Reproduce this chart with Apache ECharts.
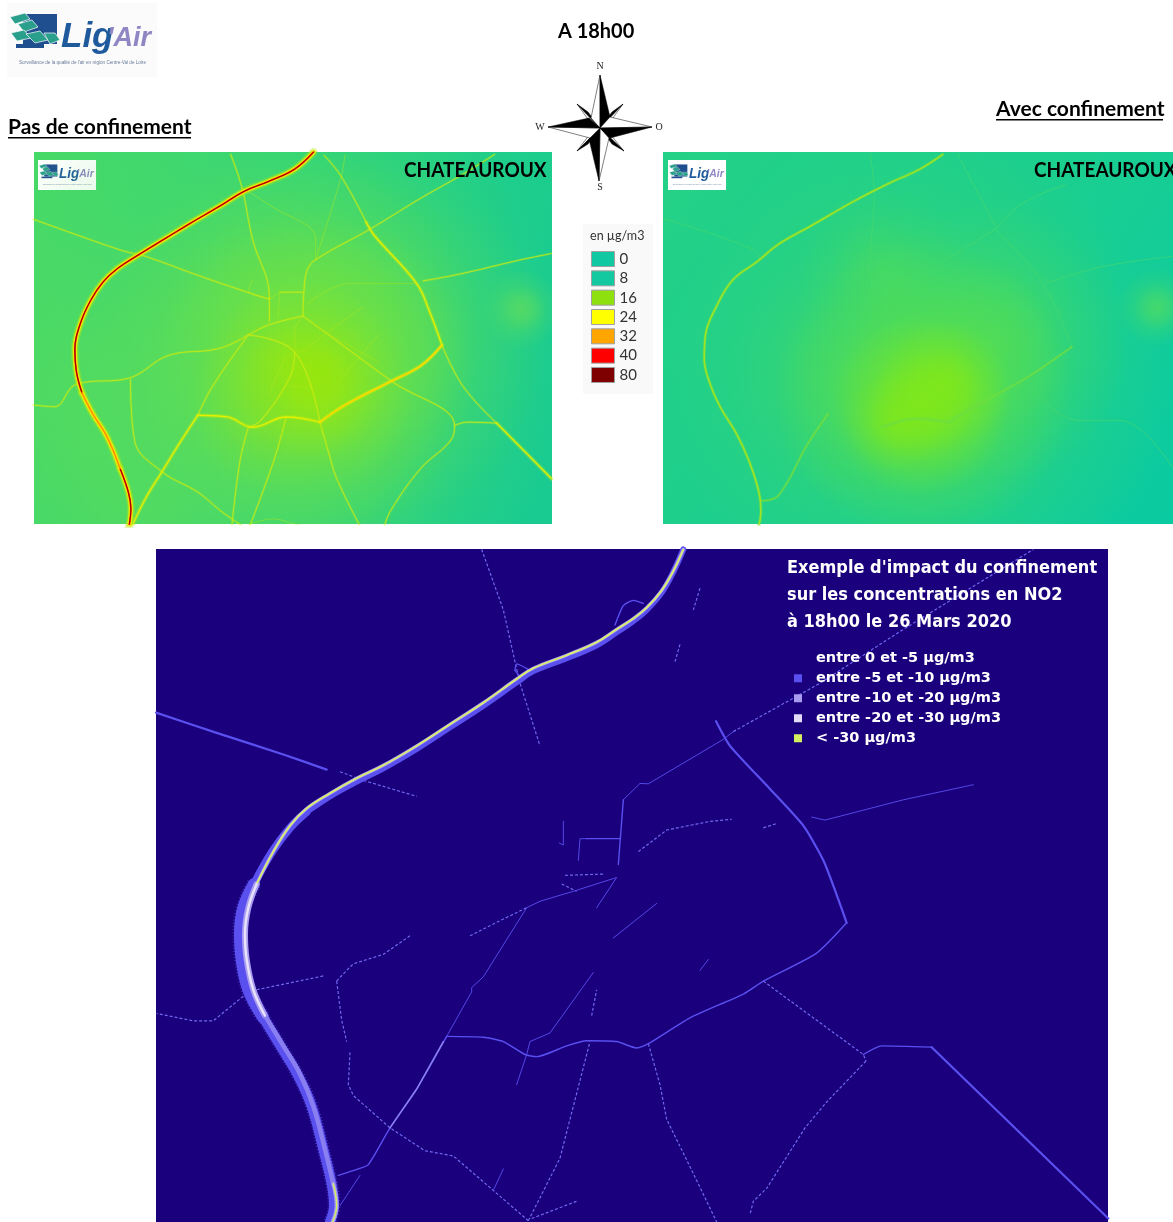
<!DOCTYPE html>
<html><head><meta charset="utf-8">
<style>html,body{margin:0;padding:0;background:#fff}#c{width:1173px;height:1222px}</style>
<script src="https://cdn.jsdelivr.net/npm/echarts@6/dist/echarts.min.js"></script>
</head><body><div id="c"></div>
<script>
// ---------- classes ----------
const concClasses = ['0','8','16','24','32','40','80'];
const concColors = ['#10c9a2','#12c9a0','#8fe00f','#ffff00','#ffa500','#ff0000','#7f0000'];
const diffClasses = ['entre 0 et -5 µg/m3','entre -5 et -10 µg/m3','entre -10 et -20 µg/m3','entre -20 et -30 µg/m3','< -30 µg/m3'];
const diffColors = ['#1a007c','#5a50f0','#a89cf0','#e2dcf8','#d4f060'];

// ---------- panel A : no lockdown (map units) ----------
const aMotorNorth = [[745,445],[700,495],[640,530],[580,560],[520,605],[450,655],[390,700],[330,745],[280,785],[245,825],[215,880],[190,950],[178,1020],[182,1090],[195,1150]];
const aMotorMid = [[195,1150],[220,1210],[255,1280],[285,1370]];
const aMotorSouth = [[285,1370],[305,1440],[311,1490],[305,1550]];
const aMajor = [
 [[870,650],[890,690],[990,830],[1020,910],[1050,1010]],
 [[760,1235],[680,1220],[600,1250],[540,1220],[470,1215]],
 [[470,1215],[430,1290],[385,1380],[345,1460],[310,1550]],
 [[1180,1238],[1310,1400]]
];
const aHot = [[[1050,1010],[1000,1070],[930,1115],[820,1185],[760,1235]]];
const aMedium = [
 [[770,455],[810,515],[870,650]],
 [[80,642],[200,695],[295,735],[345,750],[480,810],[600,860],[640,875]],
 [[548,452],[575,550],[600,700],[640,870],[640,940]],
 [[1175,452],[1100,510],[1000,580],[880,670],[750,760],[730,790],[722,855],[720,925]],
 [[1310,742],[1220,765],[1100,800],[1005,822]],
 [[760,1235],[780,1320],[800,1400],[860,1550]],
 [[1050,1010],[1100,1130],[1180,1238]],
 [[1080,1245],[1110,1235],[1180,1238]],
 [[720,925],[770,970],[930,1115],[1080,1245],[1075,1280],[1000,1370],[930,1490],[910,1550]],
 [[590,980],[640,950],[720,925]],
 [[470,1215],[505,1130],[590,980]],
 [[590,980],[700,1030],[760,1235]],
 [[700,1030],[690,1100],[620,1230],[590,1250]],
 [[680,1220],[650,1350],[590,1550]],
 [[590,1250],[570,1350],[550,1550]],
 [[310,1110],[320,1290],[385,1380],[470,1440],[530,1500],[590,1550]],
 [[80,1185],[130,1190],[180,1125],[310,1105],[400,1040],[520,1020],[590,980]],
 [[665,855],[720,855]]
];
const aFaint = [
 [[820,452],[810,520],[750,760]],
 [[575,550],[640,600],[750,700],[750,760]],
 [[640,875],[665,855],[660,930]],
 [[600,820],[590,850],[640,875]],
 [[730,890],[830,830],[990,830]],
 [[720,925],[700,970],[710,1030],[775,975],[860,900]],
 [[590,1535],[650,1518],[700,1533],[800,1550]],
 [[770,970],[900,1060]],[[800,1120],[900,980]],
 [[690,1130],[730,1130]],[[680,1040],[640,1150]]
];
const aBlobs = [ // x, y, diameter, colour, alpha
 [620,1080,620,'90,220,92',.8],[850,1000,380,'96,222,84',.85],[700,980,380,'108,224,72',.85],
 [720,1110,340,'128,228,44',.8],[720,1150,220,'150,230,16',.8],[740,1130,150,'164,232,0',.7],[640,1190,170,'150,230,16',.55],
 [1240,905,80,'102,222,88',.7],[280,1150,360,'88,220,92',.6],[350,1480,380,'90,220,90',.6],[700,1500,320,'80,218,100',.5]
];

// ---------- panel B : lockdown (map units) ----------
const bMotor = [[1015,452],[960,495],[880,540],[800,590],[700,660],[620,715],[570,765],[510,820],[470,900],[445,980],[442,1050],[455,1120],[480,1190],[520,1270],[550,1350],[575,1450],[578,1500],[570,1550]];
const bMedium = [
 [[1325,1015],[1260,1070],[1210,1110],[1090,1190],[1030,1235]],
 [[740,1210],[690,1300],[620,1450],[580,1465]],
 [[1030,1235],[950,1225],[870,1250]]
];
const bFaint = [
 [[345,640],[560,730],[575,760]],
 [[1310,540],[1200,600],[1140,670],[1020,760]],
 [[1140,670],[1250,820],[1325,1015]],
 [[1260,830],[1400,780],[1568,750]],
 [[1210,1110],[1340,1230],[1440,1230],[1568,1370]],
 [[840,450],[850,560],[830,840]],
 [[1050,450],[1140,660]]
];
const bBlobs = [
 [960,1120,500,'70,216,100',.8],[1130,1000,280,'80,220,90',.8],[870,790,170,'80,220,90',.55],[800,1100,260,'78,218,96',.5],
 [970,1150,300,'100,226,60',.8],[960,1190,180,'130,232,24',.85],[1020,1130,130,'130,232,24',.8],
 [900,1235,100,'130,232,24',.6],[1530,900,80,'90,222,90',.7]
];

// ---------- panel C : difference (map units) ----------
const cCoreYellow = [[1600,10],[1570,60],[1535,105],[1490,145],[1450,170],[1400,195],[1340,225],[1250,255],[1150,285],[1100,310],[1000,365],[900,415],[800,465],[700,510],[620,540],[540,575],[470,610],[420,650],[370,710],[320,785]];
const cCoreLight = [[320,785],[295,840],[285,900],[290,960],[310,1030],[345,1090]];
const cCoreSouth = [[345,1090],[400,1160],[450,1225],[490,1300],[525,1400],[550,1480]];
const cCoreEnd = [[550,1480],[560,1530],[548,1568]];
const cBandNorth = [[1600,10],[1570,62],[1535,110],[1490,150],[1450,176],[1400,202],[1340,232],[1250,262],[1150,292],[1100,318],[1000,372],[900,422],[800,472],[700,517],[620,548],[540,582],[470,618]];
const cBandBend = [[470,618],[420,655],[365,712],[312,785]];
const cBandWest = [[312,785],[280,840],[270,900],[275,960],[295,1030],[340,1095]];
const cBandSouth = [[340,1095],[395,1165],[445,1230],[485,1300],[520,1400],[545,1480],[552,1530],[540,1568]];
const cStrong = [
 [[1698,408],[1740,465],[1860,565],[1960,650],[2020,730],[2060,810],[2090,875]],
 [[2345,1163],[2875,1560]],
 [[18,388],[200,435],[400,485],[530,520]]
];
const cBright = [[[880,1150],[800,1260],[720,1350]]];
const cMedium = [
 [[2090,875],[2000,945],[1840,1010],[1780,1040],[1620,1095],[1495,1155],[1460,1165],[1400,1150],[1310,1148],[1250,1160],[1160,1185],[1125,1180],[1060,1150],[1000,1140],[890,1138]],
 [[890,1138],[800,1260],[720,1350],[655,1435],[625,1445],[565,1460]],
 [[1310,680],[1410,680]],
 [[1420,590],[1405,740]],
 [[2140,1180],[2195,1160],[2345,1163]],
 [[1095,290],[1100,275],[1140,290]],[[1095,290],[1110,305]],
 [[1395,185],[1420,140],[1450,128],[1480,135]]
];
const cThin = [
 [[1420,590],[1470,552],[1495,553],[1720,450],[1750,432]],
 [[890,1138],[965,1035],[965,1025],[1000,1000],[1130,840],[1170,825],[1270,802],[1400,770],[1340,840]],
 [[1985,630],[2025,637],[2260,590],[2470,555]],
 [[1100,1250],[1130,1180],[1140,1150],[1200,1130],[1330,990]],
 [[1240,640],[1240,695],[1228,690]],
 [[1285,730],[1290,680],[1310,680]],
 [[1390,910],[1520,830]],
 [[570,1530],[630,1460]],
 [[1030,1495],[1060,1445]],
 [[1650,985],[1675,960]]
];
const cDotted = [
 [[1750,432],[2010,320],[2250,200],[2650,10]],
 [[570,525],[640,545],[800,582]],
 [[995,10],[1060,150],[1095,270],[1110,320],[1170,465]],
 [[960,905],[1050,870],[1130,840]],
 [[320,1030],[520,998]],
 [[560,1010],[590,985],[610,970],[700,948],[780,905]],
 [[280,1045],[190,1102],[130,1102],[20,1085]],
 [[560,1010],[575,1100],[590,1150]],
 [[600,1175],[595,1250],[610,1275],[720,1350],[825,1403],[910,1415],[1030,1495],[1135,1565]],
 [[1135,1565],[1230,1420],[1320,1150]],
 [[1145,1560],[1280,1520]],
 [[1325,1090],[1340,1030]],
 [[1245,765],[1360,762]],[[1235,785],[1280,802]],
 [[1465,710],[1550,660],[1680,640],[1745,635]],
 [[1840,655],[1880,645]],
 [[1840,1010],[2140,1180],[2148,1195]],
 [[1495,1155],[1530,1250],[1550,1330],[1620,1440],[1700,1568]],
 [[2148,1195],[2030,1290],[1965,1350],[1850,1490],[1810,1520],[1800,1550]],
 [[1650,100],[1630,150]],[[1590,230],[1575,270]]
];

// ---------- helpers ----------
const chart = echarts.init(document.getElementById('c'), null, {renderer:'canvas'});
const panels = [
 {left:34, top:152, width:518, height:372, x:[80.8,1311.5], y:[445,1533], stops:['#46d968','#2bd37e','#19cb91'], dir:[0,.3,1,.6]},
 {left:663,top:152, width:510, height:372, x:[343,1568], y:[445,1533], stops:['#24d186','#1ccf8e','#0acaa2'], dir:[0,0,1,1]},
 {left:156,top:549, width:952, height:673, x:[18,2874], y:[9,1568], bg:'#1a007c'}
];
const grids=[],xAxes=[],yAxes=[],series=[];
panels.forEach((p,i)=>{
  grids.push({show:true,left:p.left,top:p.top,width:p.width,height:p.height,borderWidth:0,
    backgroundColor:p.bg||new echarts.graphic.LinearGradient(p.dir[0],p.dir[1],p.dir[2],p.dir[3],[
      {offset:0,color:p.stops[0]},{offset:.5,color:p.stops[1]},{offset:1,color:p.stops[2]}])});
  xAxes.push({type:'value',gridIndex:i,min:p.x[0],max:p.x[1],show:false});
  yAxes.push({type:'value',gridIndex:i,min:p.y[0],max:p.y[1],inverse:true,show:false});
});
function road(panel,pts,width,color,opacity,smooth,dash){
  series.push({type:'line',xAxisIndex:panel,yAxisIndex:panel,data:pts,showSymbol:false,silent:true,clip:true,
    smooth:smooth===undefined?0.4:smooth,animation:false,
    lineStyle:{width,color,opacity:opacity===undefined?1:opacity,cap:dash?'butt':'round',join:'round',type:dash||'solid'}});
}
function blobs(panel,list){
  series.push({type:'custom',xAxisIndex:panel,yAxisIndex:panel,silent:true,animation:false,clip:true,
    data:list.map(b=>[b[0],b[1],b[2]]),
    renderItem(params,api){
      const b=list[params.dataIndex], c=api.coord([api.value(0),api.value(1)]), r=api.value(2)/2, s=params.coordSys;
      const rect=echarts.graphic.clipRectByRect({x:c[0]-r,y:c[1]-r,width:2*r,height:2*r},{x:s.x,y:s.y,width:s.width,height:s.height});
      if(!rect) return;
      return {type:'rect',shape:rect,style:{fill:new echarts.graphic.RadialGradient(c[0],c[1],r,[
        {offset:0,color:`rgba(${b[3]},${b[4]})`},{offset:.3,color:`rgba(${b[3]},${b[4]*.72})`},{offset:.6,color:`rgba(${b[3]},${b[4]*.3})`},{offset:1,color:`rgba(${b[3]},0)`}],true)}};
    }});
}

// panel A
blobs(0,aBlobs);
aFaint.forEach(r=>road(0,r,.9,'#aee81c',.55));
aMedium.forEach(r=>{road(0,r,2.6,'#c0ea18',.25);road(0,r,.95,'#ccec10',.85);});
aMajor.forEach(r=>{road(0,r,4,'#c0ea10',.4);road(0,r,1.3,'#e4f000',1);});
aHot.forEach(r=>{road(0,r,4,'#d0ec08',.5);road(0,r,1.8,'#f4ea00',1);road(0,r,.6,'#ffa500',.7);});
[aMotorNorth,aMotorMid,aMotorSouth].forEach(r=>{road(0,r,8,'#b0e810',.35);road(0,r,5,'#d8ee08',.8);road(0,r,3,'#fff000',1);});
[aMotorNorth,aMotorSouth].forEach(r=>{road(0,r,2,'#ffa000',1);road(0,r,1.4,'#e81000',1);road(0,r,.8,'#8a0000',1);});
road(0,aMotorMid,1.8,'#ffb000',1);road(0,aMotorMid,.7,'#f05000',.6);

// panel B
blobs(1,bBlobs);
bFaint.forEach(r=>road(1,r,1,'#4cd86a',.6));
bMedium.forEach(r=>{road(1,r,3,'#64dc50',.45);road(1,r,1.1,'#74e038',.85);});
road(1,bMotor,3.5,'#70e040',.4);road(1,bMotor,1.6,'#9ee424',1);

// panel C
cDotted.forEach(r=>road(2,r,1.2,'#7068f0',1,false,[3,2]));
cThin.forEach(r=>road(2,r,.9,'#5a50f0',1,false));
cMedium.forEach(r=>road(2,r,1.4,'#5a50f0',1,0.2));
cBright.forEach(r=>road(2,r,1.5,'#8a80f0',1,false));
cStrong.forEach(r=>road(2,r,2.2,'#5a50f0',1,0.2));
road(2,cBandWest,15,'#5a50f0',.55,.4,[1,2]);road(2,cBandSouth,13,'#5a50f0',.55,.4,[1,2]);
road(2,cBandNorth,6,'#5a50f0');road(2,cBandBend,8,'#5a50f0');road(2,cBandWest,12,'#5a50f0');road(2,cBandSouth,10,'#5a50f0');
road(2,cCoreLight,6,'#a89cf0');road(2,cCoreSouth,4.5,'#8a7ff0');road(2,cCoreEnd,4,'#a89cf0');
road(2,cCoreYellow,3.2,'#a89cf0');road(2,cCoreYellow,1.7,'#dcf068');
road(2,cCoreLight,2.4,'#e8e2fa');road(2,cCoreEnd,1.4,'#d4f060');

// legend-only series
concClasses.forEach((n,i)=>series.push({type:'scatter',name:n,data:[],xAxisIndex:0,yAxisIndex:0,itemStyle:{color:concColors[i],opacity:1}}));
diffClasses.forEach((n,i)=>series.push({type:'scatter',name:n,data:[],xAxisIndex:2,yAxisIndex:2,itemStyle:{color:diffColors[i],opacity:1}}));

// decoration
function logo(ox,oy,sx,sy,detail){
  const tile=(pts,fill)=>({type:'polygon',shape:{points:pts},style:{fill,stroke:'#fff',lineWidth:.7}});
  const kids=[
   {type:'rect',shape:{x:0,y:0,width:150,height:74},style:{fill:detail?'#fbfbfb':'#ffffff'}},
   {type:'rect',shape:{x:16,y:11,width:34,height:30},style:{fill:'#1f4f8f'}},
   {type:'rect',shape:{x:9,y:41,width:28,height:4},style:{fill:'#1f4f8f'}},
   tile([[3,14],[18,10],[23,16],[8,21]],'#2a9f8c'),
   tile([[11,21],[25,17],[31,24],[17,29]],'#2a9f8c'),
   tile([[4,30],[17,27],[24,35],[10,38]],'#2a9f8c'),
   tile([[19,31],[33,28],[41,37],[28,40]],'#2a9f8c'),
   tile([[37,30],[48,30],[53,37],[43,41]],'#2a9f8c'),
   {type:'text',x:54,y:17,style:{text:"Lig",fill:'#1f5a9c',font:'italic bold 35px "Liberation Sans"'}},
   {type:'text',x:100,y:22,style:{text:"'Air",fill:'#8f86c4',font:'italic bold 27px "Liberation Sans"'}},
   {type:'text',x:12,y:57,style:{text:"Surveillance de la qualité de l'air en région Centre-Val de Loire",fill:'#6a7a9a',font:'4.6px "Liberation Sans"'}}
  ];
  return {type:'group',x:ox,y:oy,scaleX:sx,scaleY:sy,z:50,children:kids};
}
const ctr=[600,128];
function arm(tip,side,fill){return {type:'polygon',shape:{points:[tip,side,ctr]},style:{fill,stroke:'#000',lineWidth:.5},z:60};}
const compass=[
 arm([623,104],[610,122],'#fff'),arm([623,104],[612,112],'#000'),
 arm([577,104],[590,122],'#fff'),arm([577,104],[588,112],'#000'),
 arm([624,151],[610,134],'#fff'),arm([624,151],[612,144],'#000'),
 arm([577,151],[590,134],'#fff'),arm([577,151],[588,144],'#000'),
 arm([600,75],[591,118],'#fff'),arm([600,75],[610,117],'#000'),
 arm([599,181],[609,138],'#fff'),arm([599,181],[589,139],'#000'),
 arm([548,127],[590,138],'#fff'),arm([548,127],[589,118],'#000'),
 arm([652,127],[610,117],'#fff'),arm([652,127],[610,138],'#000')
];
const compassLetters=[['N',600,66],['S',600,187],['W',540,127],['O',659,127]].map(l=>({type:'text',z:60,x:l[1],y:l[2],
  style:{text:l[0],fill:'#222',font:'10px "Liberation Serif"',align:'center',verticalAlign:'middle'}}));
function heading(text,x,y,w){return [
  {type:'text',z:60,x,y:y+1,style:{text,fill:'#000',font:'bold 21px Lato',verticalAlign:'middle'}},
  {type:'rect',z:60,shape:{x,y:y+11,width:w,height:1.5},style:{fill:'#000'}}];}
function city(x,y){return {type:'text',z:60,x,y,scaleX:.905,style:{text:'CHATEAUROUX',fill:'#000',font:'bold 21px Lato',verticalAlign:'middle'}};}
function whiteLine(t,y){return {type:'text',z:60,x:787,y,scaleX:.925,style:{text:t,fill:'#fff',font:'bold 17.5px "DejaVu Sans"',verticalAlign:'middle'}};}

chart.setOption({
  animation:false,
  grid:grids,xAxis:xAxes,yAxis:yAxes,series,
  legend:[
   {data:concClasses,orient:'vertical',left:591,top:251,itemWidth:23,itemHeight:15,itemGap:3.33,icon:'rect',selectedMode:false,z:40,
    itemStyle:{borderColor:'#a0a0a0',borderWidth:1},padding:0,
    textStyle:{fontFamily:'Lato',fontSize:15,color:'#333'}},
   {data:diffClasses,orient:'vertical',left:794,top:649,itemWidth:8,itemHeight:8,itemGap:1.5,icon:'rect',selectedMode:false,z:40,padding:0,
    textStyle:{fontFamily:'DejaVu Sans',fontWeight:'bold',fontSize:14.5,color:'#fff',padding:[0,0,0,9],lineHeight:18.5}}
  ],
  graphic:[
   {type:'rect',z:-1,shape:{x:583,y:224,width:70,height:170},style:{fill:'#f9f9f9'}},
   {type:'text',z:60,x:590,y:236,scaleX:.93,style:{text:'en µg/m3',fill:'#333',font:'13.5px Lato',verticalAlign:'middle'}},
   {type:'text',z:60,x:558,y:31,scaleX:.95,style:{text:'A 18h00',fill:'#000',font:'bold 21px Lato',verticalAlign:'middle'}},
   ...heading('Pas de confinement',8,126,183),
   ...heading('Avec confinement',996,108,167),
   city(404,170),city(1034,170),
   logo(7,3,1,1,true),logo(38,160,.387,.405,false),logo(668,160,.387,.405,false),
   ...compass,...compassLetters,
   whiteLine("Exemple d'impact du confinement",568),
   whiteLine('sur les concentrations en NO2',595),
   whiteLine('à 18h00 le 26 Mars 2020',622)
  ]
});
</script></body></html>
